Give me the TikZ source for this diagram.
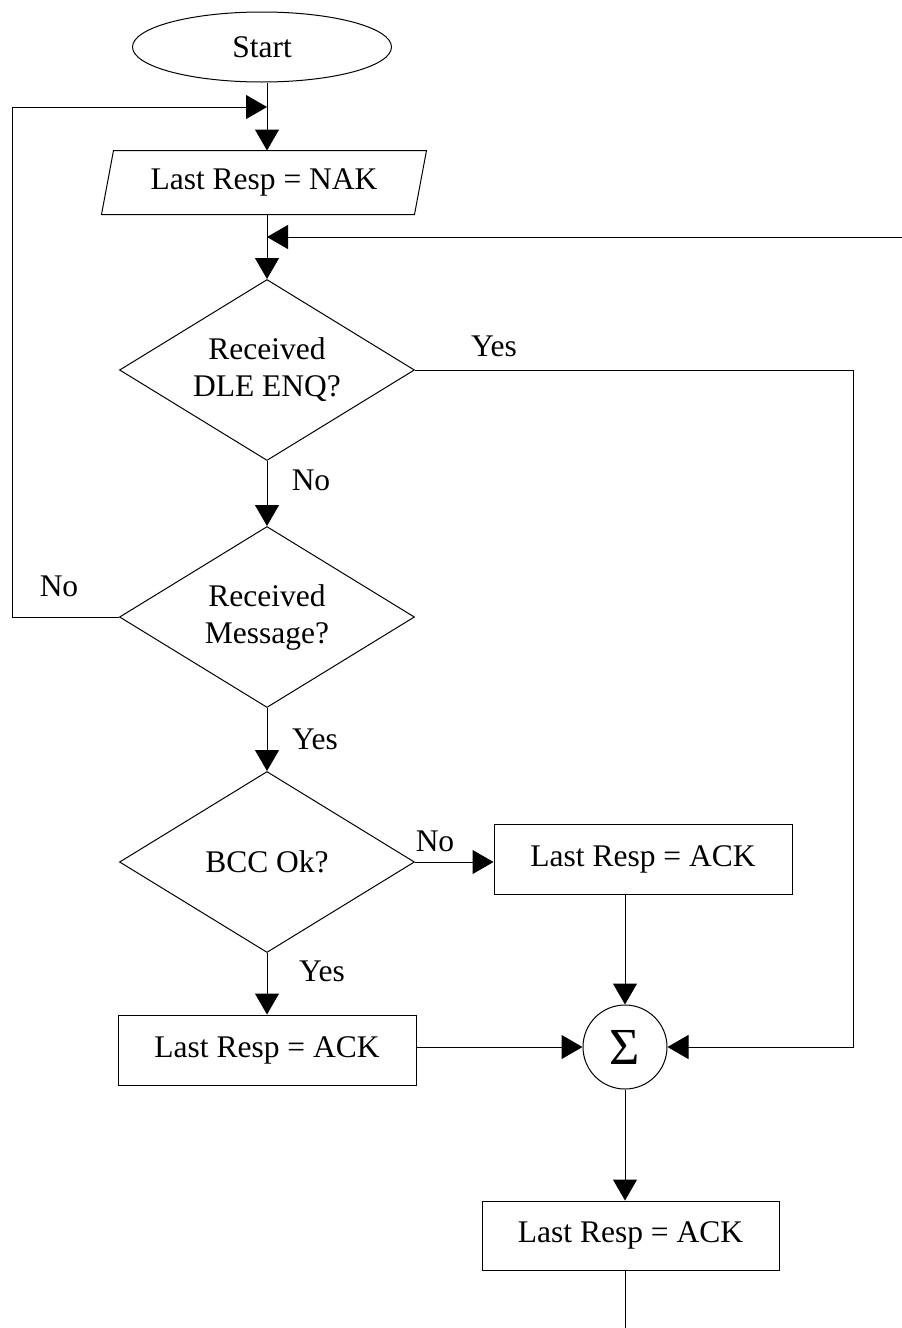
\documentclass[tikz,border=0pt]{standalone}
\usepackage{fontspec}
\setmainfont{Liberation Serif}
\usetikzlibrary{arrows.meta,shapes.geometric,calc}

\begin{document}
\begin{tikzpicture}[x=1pt,y=-1pt,line width=1pt,
  every node/.style={font=\fontsize{31.5}{37}\selectfont},
  box/.style={draw,rectangle,minimum width=298pt,minimum height=70pt,inner sep=0pt},
  decision/.style={draw,diamond,aspect=1.63,minimum width=295pt,minimum height=181pt,inner sep=0pt,align=center},
  lbl/.style={inner sep=0pt},
  arr/.style={-{Triangle[length=21pt,width=24pt]}}]

\useasboundingbox (0,0) rectangle (902,1328);

% nodes
\node[draw,ellipse,minimum width=259pt,minimum height=70pt,inner sep=0pt] (start) at (262,47) {Start};
\node[minimum width=312pt,minimum height=63pt,inner sep=0pt] (para) at (264,182.5) {Last Resp = NAK};
\draw ($(para.north west)+(6,0)$) -- ($(para.north east)+(6,0)$)
   -- ($(para.south east)+(-6,0)$) -- ($(para.south west)+(-6,0)$) -- cycle;

\node[decision] (d1) at (267,370) {Received\\DLE ENQ?};
\node[decision] (d2) at (267,617) {Received\\Message?};
\node[decision] (d3) at (267,862) {BCC Ok?};

\node[box] (box2) at (643,859) {Last Resp = ACK};
\node[box] (box3) at (267,1050) {Last Resp = ACK};
\node[draw,circle,minimum size=84pt,inner sep=0pt,font=\fontsize{52}{52}\selectfont] (sig) at (625,1047) {Σ};
\node[box,minimum width=297pt,minimum height=69pt] (box4) at (630.5,1235.5) {Last Resp = ACK};

% junction points
\coordinate (j1) at (267,107);
\coordinate (j2) at (267,237);
\coordinate (lc) at (12,107);
\coordinate (rin) at (902,237);
\coordinate (rc) at (853,1047);
\coordinate (bot) at (625,1328);

% connectors
\draw (j1 |- start.south) -- (j1);
\draw[arr] (j1) -- (j1 |- para.north);
\draw[arr] (d2.west) -| (lc) -- (j1);
\draw (j1 |- para.south) -- (j2);
\draw[arr] (rin) -- (j2);
\draw[arr] (j2) -- (d1.north);
\draw[arr] (d1.south) -- (d2.north);
\draw[arr] (d2.south) -- (d3.north);
\draw[arr] (d3.south) -- (box3.north);
\draw[arr] (d3.east) -- (d3.east -| box2.west);
\draw[arr] (box2.south -| sig) -- (sig.north);
\draw[arr] (box3.east |- sig) -- (sig.west);
\draw[arr] (d1.east) -| (rc) -- (sig.east);
\draw[arr] (sig.south) -- (sig |- box4.north);
\draw (sig |- box4.south) -- (bot);

% branch labels
\node[lbl] (y1) at (494,346) {Yes};
\node[lbl] (n1) at (311,480) {No};
\node[lbl] (n2) at (59,586) {No};
\node[lbl] (y2) at (315,739) {Yes};
\node[lbl] (n3) at (435,841) {No};
\node[lbl] (y3) at (322,971) {Yes};
\end{tikzpicture}
\end{document}
